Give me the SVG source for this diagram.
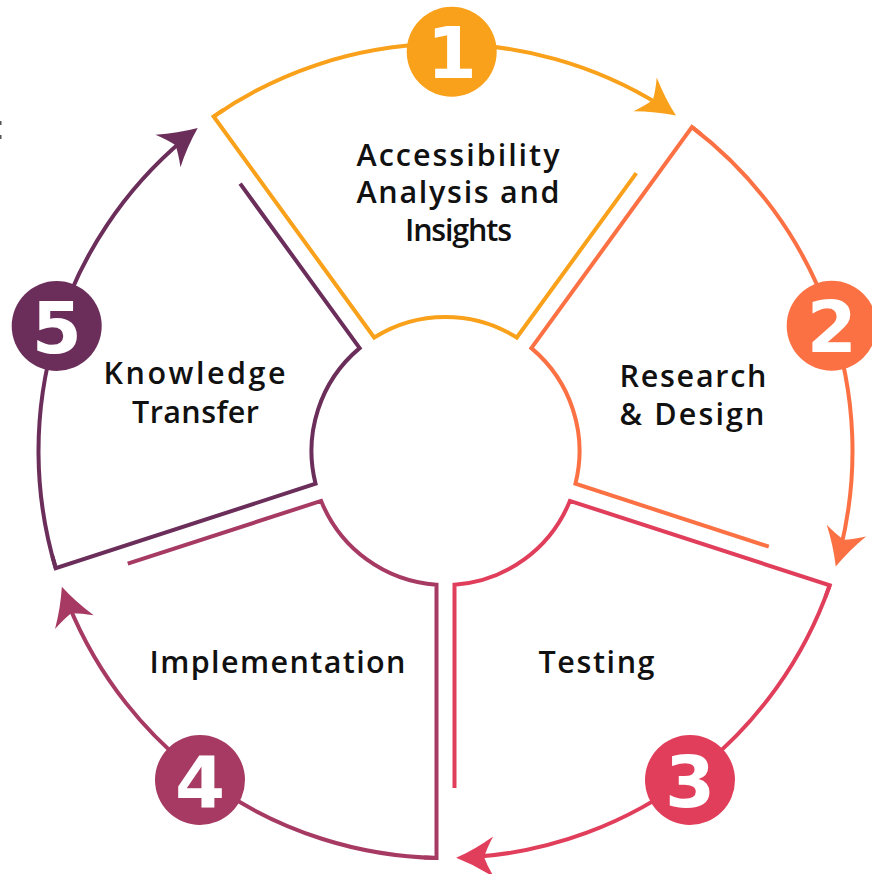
<svg xmlns="http://www.w3.org/2000/svg" xmlns:xlink="http://www.w3.org/1999/xlink" width="872" height="874" viewBox="0 0 872 874">
<style>
.ln{fill:none;stroke-width:4;stroke-linejoin:miter;stroke-linecap:butt}
.lbl{font-family:"Open Sans","DejaVu Sans",sans-serif;font-size:30.5px;font-weight:600;fill:#111}
.num{font-family:"DejaVu Sans","Liberation Sans",sans-serif;font-size:72px;font-weight:bold;fill:#fff;text-anchor:middle}
.k1{stroke:#F9A11B}.k2{stroke:#FB7144}.k3{stroke:#E03E5B}.k4{stroke:#A63A63}.k5{stroke:#6B2E5A}
.f1{fill:#F9A11B}.f2{fill:#FB7144}.f3{fill:#E03E5B}.f4{fill:#A63A63}.f5{fill:#6B2E5A}
</style>
<defs>
<path id="ah" d="M0,0 Q-19,-8 -37.5,-20.5 Q-31,-9 -28,0 Q-31,9 -37.5,20.5 Q-19,8 0,0 Z"/>
</defs>
<rect width="872" height="874" fill="#fff"/>
<rect x="0" y="121" width="1.5" height="4" fill="#555"/>
<rect x="0" y="135" width="1.5" height="4" fill="#555"/>

<g id="connectors">
<path class="ln k1" d="M213.61,116.52 A407,407 0 0 1 661.18,105.84"/>
<use xlink:href="#ah" class="f1" transform="translate(676.03,115.58) rotate(34.5)"/>
<path class="ln k2" d="M691.95,127.10 A407,407 0 0 1 840.41,549.46"/>
<use xlink:href="#ah" class="f2" transform="translate(835.74,566.59) rotate(106.5)"/>
<path class="ln k3" d="M829.71,585.30 A407,407 0 0 1 473.89,857.01"/>
<use xlink:href="#ah" class="f3" transform="translate(456.15,857.86) rotate(178.5)"/>
<path class="ln k4" d="M436.5,857.9 A407,407 0 0 1 68.14,603.46"/>
<use xlink:href="#ah" class="f4" transform="translate(61.85,586.86) rotate(250.5)"/>
<path class="ln k5" d="M55.73,568.18 A407,407 0 0 1 183.89,139.22"/>
<use xlink:href="#ah" class="f5" transform="translate(197.73,128.11) rotate(322.5)"/>
</g>

<g id="step1">
<path class="ln k1" d="M636.30,173.07 L516.81,337.54 A134,134 0 0 0 374.19,337.54 L213.61,116.52 A407,407 0 0 1 223.83,109.66"/>
<circle class="f1" cx="451.7" cy="51.7" r="45"/>
<text class="num" x="451.7" y="78">1</text>
<text class="lbl" x="356.5" y="165.5" textLength="203" lengthAdjust="spacing">Accessibility</text>
<text class="lbl" x="356.5" y="202.7" textLength="203" lengthAdjust="spacing">Analysis and</text>
<text class="lbl" x="405" y="241" textLength="107" lengthAdjust="spacing">Insights</text>
</g>

<g id="step2">
<path class="ln k2" d="M768.79,546.58 L575.44,483.76 A134,134 0 0 0 531.37,348.12 L691.95,127.10 A407,407 0 0 1 701.63,134.70"/>
<circle class="f2" cx="831.7" cy="325.8" r="45"/>
<text class="num" x="831.7" y="352">2</text>
<text class="lbl" x="619.5" y="386.7" textLength="147" lengthAdjust="spacing">Research</text>
<text class="lbl" x="619.5" y="425" textLength="145" lengthAdjust="spacing">&amp; Design</text>
</g>

<g id="step3">
<path class="ln k3" d="M454.5,788 L454.5,584.7 A134,134 0 0 0 569.88,500.88 L829.71,585.30 A407,407 0 0 1 825.47,596.86"/>
<circle class="f3" cx="690" cy="780" r="45"/>
<text class="num" x="690" y="806.5">3</text>
<text class="lbl" x="538.5" y="673" textLength="116" lengthAdjust="spacing">Testing</text>
</g>

<g id="step4">
<path class="ln k4" d="M127.77,563.70 L321.12,500.88 A134,134 0 0 0 436.5,584.7 L436.5,857.9 A407,407 0 0 1 424.20,857.44"/>
<circle class="f4" cx="200" cy="780" r="45"/>
<text class="num" x="200" y="806.5">4</text>
<text class="lbl" x="149.5" y="673" textLength="256" lengthAdjust="spacing">Implementation</text>
</g>

<g id="step5">
<path class="ln k5" d="M240.14,183.65 L359.63,348.12 A134,134 0 0 0 315.56,483.76 L55.73,568.18 A407,407 0 0 1 52.37,556.34"/>
<circle class="f5" cx="56.7" cy="326" r="45"/>
<text class="num" x="56.7" y="352.5">5</text>
<text class="lbl" x="103.5" y="384" textLength="182" lengthAdjust="spacing">Knowledge</text>
<text class="lbl" x="132" y="423.3" textLength="127" lengthAdjust="spacing">Transfer</text>
</g>
</svg>
